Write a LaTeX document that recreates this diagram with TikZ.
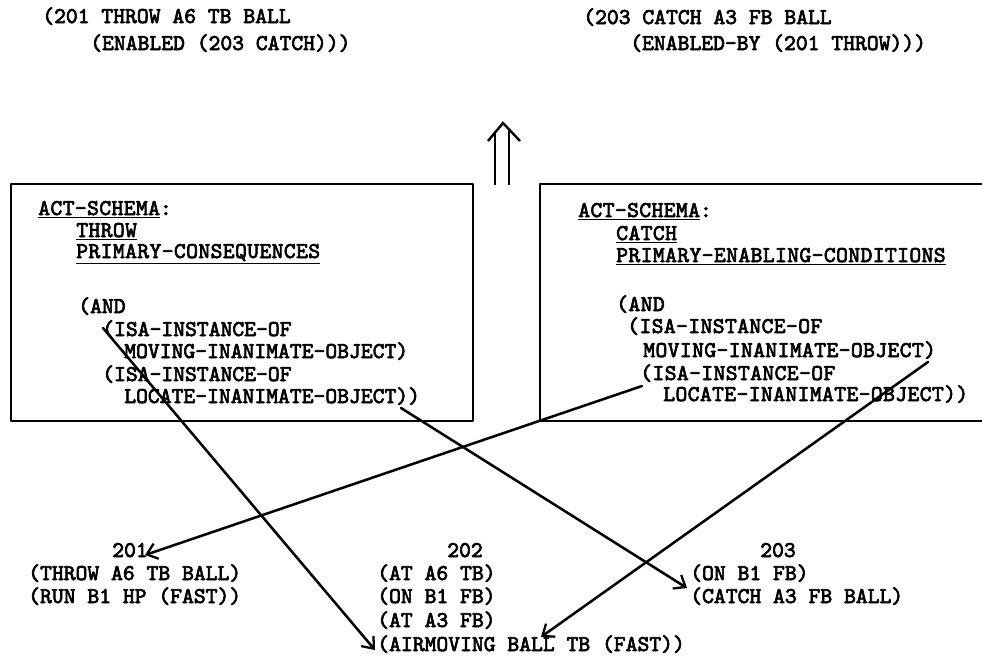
\documentclass[tikz,border=0pt]{standalone}
\usepackage{fontspec}
\newfontfamily\twfont{lmmono10-regular}[Extension=.otf, FakeBold=3]
\newfontfamily\twwide{lmmono10-regular}[Extension=.otf, FakeBold=3, LetterSpace=1.7]
\usetikzlibrary{arrows.meta}
\begin{document}
\begin{tikzpicture}[x=0.75pt,y=-0.75pt,
  txt/.style={anchor=base west, inner sep=0pt, font=\twfont\fontsize{16.9}{20}\selectfont},
  wtxt/.style={anchor=base west, inner sep=0pt, font=\twwide\fontsize{16.9}{20}\selectfont},
  conn/.style={line width=1.9pt, line cap=round, -{Straight Barb[length=7.5pt,width=12pt,line width=1.7pt]}},
  frame/.style={line width=2.1pt, line join=round},
  dbl/.style={line width=1.8pt}]
\useasboundingbox (0,0) rectangle (982,662);
\clip (0,0) rectangle (982,662);
% top statements
\node[txt] (t1a) at (42,23) {(201 THROW A6 TB BALL};
\node[txt] (t1b) at (90,50) {(ENABLED (203 CATCH)))};
\node[txt] (t2a) at (583,24) {(203 CATCH A3 FB BALL};
\node[txt] (t2b) at (630,50) {(ENABLED-BY (201 THROW)))};
% double arrow
\draw[dbl] (495,185) -- (495,131);
\draw[dbl] (509,185) -- (509,131);
\draw[dbl, line join=miter] (488,141) -- (503,123) -- (520,141);
% boxes
\draw[frame] (11,184) rectangle (473,421);
\draw[frame] (540,184) rectangle (1000,421);
% left box text
\node[wtxt] (lact) at (38,215) {\underline{ACT-SCHEMA}:};
\node[wtxt] (lthr) at (76,237) {\underline{THROW}};
\node[wtxt] (lpri) at (76,258) {\underline{PRIMARY-CONSEQUENCES}};
\node[txt] (land) at (78,313) {(AND};
\node[txt] (lisa1) at (102,336) {(ISA-INSTANCE-OF};
\node[txt] (lmov) at (124,358) {MOVING-INANIMATE-OBJECT)};
\node[txt] (lisa2) at (102,381) {(ISA-INSTANCE-OF};
\node[txt] (lloc) at (124,403) {LOCATE-INANIMATE-OBJECT))};
% right box text
\node[wtxt] (ract) at (578,217) {\underline{ACT-SCHEMA}:};
\node[wtxt] (rcat) at (616,240) {\underline{CATCH}};
\node[wtxt] (rpri) at (616,262) {\underline{PRIMARY-ENABLING-CONDITIONS}};
\node[wtxt] (rand) at (616,311) {(AND};
\node[wtxt] (risa1) at (627,333) {(ISA-INSTANCE-OF};
\node[wtxt] (rmov) at (643,357) {MOVING-INANIMATE-OBJECT)};
\node[wtxt] (risa2) at (640,380) {(ISA-INSTANCE-OF};
\node[wtxt] (rloc) at (663,401) {LOCATE-INANIMATE-OBJECT))};
% bottom states
\node[txt] (n201) at (112,557) {201};
\node[txt] (thr) at (28,580) {(THROW A6 TB BALL)};
\node[txt] (run) at (28,603) {(RUN B1 HP (FAST))};
\node[txt] (n202) at (447,557) {202};
\node[txt] (at6) at (377,580) {(AT A6 TB)};
\node[txt] (on2) at (377,603) {(ON B1 FB)};
\node[txt] (at3) at (377,627) {(AT A3 FB)};
\node[txt] (air) at (377,651) {(AIRMOVING BALL TB (FAST))};
\node[txt] (n203) at (760,557) {203};
\node[txt] (on3) at (690,580) {(ON B1 FB)};
\node[txt] (cat) at (690,603) {(CATCH A3 FB BALL)};
% connector end points
\coordinate (s1) at (103,328);
\coordinate (e1) at (375,650);
\coordinate (s2) at (401,408);
\coordinate (e2) at (687,588);
\coordinate (s3) at (642,386);
\coordinate (e3) at (145,555);
\coordinate (s4) at (928,362);
\coordinate (e4) at (541,637);
\draw[conn] (s1) -- (e1);
\draw[conn] (s2) -- (e2);
\draw[conn] (s3) -- (e3);
\draw[conn] (s4) -- (e4);
\end{tikzpicture}
\end{document}
